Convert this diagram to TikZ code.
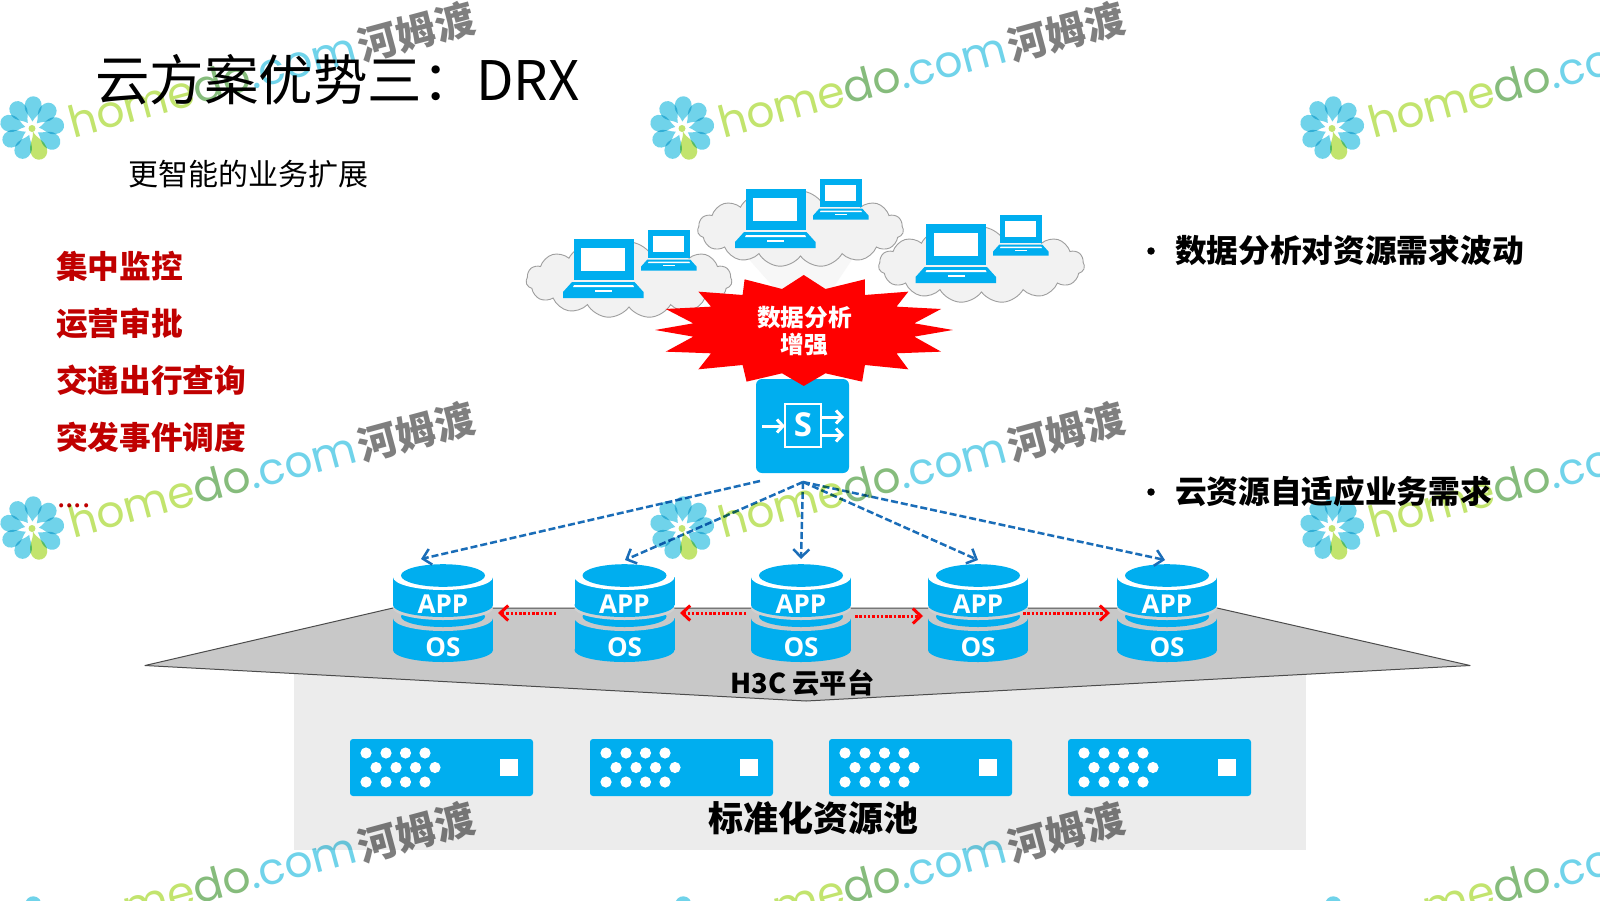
\documentclass[tikz,border=0pt]{standalone}
\usepackage{fontspec}
\setmainfont{Noto Sans CJK SC}
\newfontfamily\latinb{Open Sans}
\newfontfamily\wmfont{Poppins}
\usetikzlibrary{shapes.symbols,arrows.meta,calc}
\definecolor{skyb}{HTML}{00AEEF}
\definecolor{plate}{HTML}{C8C8C8}
\definecolor{panel}{HTML}{ECECEC}
\definecolor{darkred}{HTML}{C00000}
\definecolor{flowblue}{HTML}{1A6DB8}
\definecolor{wlime}{HTML}{C2E46E}
\definecolor{wsage}{HTML}{86BC7C}
\definecolor{wcyan}{HTML}{70D3EA}
\definecolor{wgray}{HTML}{7F7F7F}
\newcommand{\fs}[1]{\fontsize{#1pt}{#1pt}\selectfont}
\tikzset{
  lbl/.style={inner sep=0pt,outer sep=0pt},
  redtxt/.style={lbl,anchor=west,text=darkred,font=\fs{31.7}\bfseries},
  blacktxt/.style={lbl,anchor=west,text=black,font=\fs{31.7}\bfseries},
  bulletdot/.style={circle,fill=black,inner sep=0pt,minimum size=7.5pt},
  cloudy/.style={cloud,cloud puffs=15,cloud puff arc=115,cloud ignores aspect,draw=black!38,fill=black!5,line width=.9pt,inner sep=0pt,minimum width=206pt,minimum height=76pt},
  flow/.style={flowblue,line width=2.5pt,dash pattern=on 7pt off 3pt,-{Straight Barb[length=8pt,width=16pt,line width=2.5pt]}},
  migrate/.style={red,line width=3pt,dash pattern=on 2.5pt off 1.8pt,-{Straight Barb[length=8pt,width=15pt,line width=3pt]}},
  laptop/.pic={
    \fill[skyb] (10.5,0) rectangle (70.5,41);
    \fill[white] (18,9) rectangle (62,32);
    \fill[skyb] (9,43) -- (71.5,43) -- (80.5,53) -- (80.5,59) -- (0,59) -- (0,53) -- cycle;
    \fill[white] (11,46) -- (70,46) -- (71,48) -- (10,48) -- cycle;
    \fill[white] (32,50.5) rectangle (49,52.5);
  },
  stack/.pic={
    \fill[skyb] (-50,41) rectangle (50,73);
    \fill[skyb] (0,73) ellipse [x radius=50,y radius=12];
    \fill[plate] (0,41) ellipse [x radius=50,y radius=13];
    \fill[skyb] (0,39.5) ellipse [x radius=42,y radius=10.5];
    \fill[plate!85!white] (0,31) ellipse [x radius=50,y radius=12];
    \fill[skyb] (-50,0) rectangle (50,28);
    \fill[skyb] (0,28) ellipse [x radius=50,y radius=12];
    \fill[white] (0,0) ellipse [x radius=50,y radius=13];
    \fill[skyb] (0,-1.5) ellipse [x radius=42,y radius=11.3];
    \node[lbl,text=white,font=\latinb\fs{26}\bfseries] (-app) at (0,27) {APP};
    \node[lbl,text=white,font=\latinb\fs{26}\bfseries] (-os) at (0,70) {OS};
  },
  rackunit/.pic={
    \fill[skyb,rounded corners=3pt] (0,0) rectangle (183,57);
    \foreach \dx in {16,36,55.5,75} {
      \fill[white] (\dx,14) circle (5.6pt);
      \fill[white] (\dx,43) circle (5.6pt);
      \fill[white] (\dx+10,28.5) circle (5.6pt);
    }
    \fill[white] (150,20) rectangle (167.5,37);
  },
  petal/.pic={
    \fill (7,0) .. controls (12,-2) and (15,-8.5) .. (22.5,-8.5)
      .. controls (35.5,-8.5) and (35.5,8.5) .. (22.5,8.5)
      .. controls (15,8.5) and (12,2) .. (7,0) -- cycle;
  },
  wmark/.pic={
    \begin{scope}[shift={(32,128.5)}]
      \foreach \a in {1,...,8} { \pic[wcyan,rotate=-73-40*\a] {petal}; }
      \fill[wlime,rotate=-73] (3,0) .. controls (11,-1.5) and (15,-8.5) .. (22.5,-8.5)
        .. controls (35.5,-8.5) and (35.5,8.5) .. (22.5,8.5)
        .. controls (15,8.5) and (11,1.5) .. (3,0) -- cycle;
      \fill[wlime] (0,0) circle (3.5pt);
    \end{scope}
    \node[lbl,anchor=base west,rotate=15,font=\wmfont\fs{44}] (-brand) at (73,138)
      {\textcolor{wlime}{home}\textcolor{wsage}{do}\textcolor{wcyan}{.com}};
    \node[lbl,rotate=15,text=wgray,font=\fs{39.5}\bfseries] (-cn) at (416,32) {河姆渡};
  }
}
\begin{document}
\begin{tikzpicture}[x=1pt,y=-1pt]
\useasboundingbox (0,0) rectangle (1600,900);
\clip (0,0) rectangle (1600,900);
\fill[white] (0,0) rectangle (1600,900);

% title block
\node[lbl,anchor=base west,font=\fs{54.5}] (title) at (95,100) {云方案优势三：DRX};
\node[lbl,anchor=west,font=\fs{30}] (subtitle) at (128,174) {更智能的业务扩展};

% left list
\node[redtxt] (l1) at (56,266.5) {集中监控};
\node[redtxt] (l2) at (56,323.5) {运营审批};
\node[redtxt] (l3) at (56,380.5) {交通出行查询};
\node[redtxt] (l4) at (56,437.5) {突发事件调度};
\node[lbl,anchor=base west,text=darkred,font=\fs{30}] (l5) at (57,507) {....};

% right bullets
\node[bulletdot] (b1) at (1151,251) {};
\node[blacktxt] (r1) at (1175,250.5) {数据分析对资源需求波动};
\node[bulletdot] (b2) at (1151,492) {};
\node[blacktxt] (r2) at (1175,491.5) {云资源自适应业务需求};

% resource pool panel and platform plate
\fill[panel] (294,660) rectangle (1306,850);
\draw[fill=plate,draw=black!70,line width=1pt,line join=round]
  (145,665.5) -- (393,608) -- (1217,608) -- (1470,665.5) -- (806,701) -- cycle;
\node[lbl,font=\fs{27.3}\bfseries] (h3c) at (802.5,683) {H3C 云平台};

% servers
\pic (s1) at (350,739) {rackunit};
\pic (s2) at (590,739) {rackunit};
\pic (s3) at (829,739) {rackunit};
\pic (s4) at (1068,739) {rackunit};
\node[lbl,font=\fs{35}\bfseries] (pool) at (813,818) {标准化资源池};

% clouds and laptops
\fill[black!3] (745,255) -- (855,255) -- (825,300) -- (785,300) -- cycle;
\node[cloudy] (c1) at (629,280) {};
\node[cloudy] (c2) at (800.5,229) {};
\node[cloudy] (c3) at (981.5,265) {};
\pic at (563,239) {laptop};
\pic[scale=.69] at (641,230) {laptop};
\pic at (735,189) {laptop};
\pic[scale=.69] at (813,179) {laptop};
\pic at (915.5,224) {laptop};
\pic[scale=.69] at (993,215) {laptop};

% switch
\node[lbl,fill=skyb,rounded corners=6pt,minimum width=93pt,minimum height=94pt] (switch) at (802.5,426) {};
\draw[white,line width=2.4pt] (785,404) rectangle (821,447);
\node[lbl,text=white,font=\latinb\fs{33}\bfseries] (sw) at (803,425) {S};
\draw[white,line width=3pt,-{Straight Barb[length=6pt,width=13pt,line width=3pt]}] (762,426) -- (785,426);
\draw[white,line width=3pt,-{Straight Barb[length=6pt,width=13pt,line width=3pt]}] (822,417) -- (844,417);
\draw[white,line width=3pt,-{Straight Barb[length=6pt,width=13pt,line width=3pt]}] (822,435) -- (844,435);

% burst
\begin{scope}[shift={(500,160)},x=.3945pt,y=-.3333pt]
\fill[red] (770,345) -- (825,387) -- (925,358) -- (925,405) -- (1035,395) -- (1005,440)
  -- (1118,447) -- (1050,490) -- (1148,510) -- (1050,530) -- (1118,575) -- (1005,580)
  -- (1035,628) -- (925,615) -- (918,665) -- (825,640) -- (770,678) -- (715,640)
  -- (625,665) -- (615,615) -- (503,628) -- (535,580) -- (420,575) -- (490,530)
  -- (393,510) -- (490,490) -- (420,447) -- (535,440) -- (503,395) -- (615,405)
  -- (620,358) -- (715,387) -- cycle;
\end{scope}
\node[lbl,text=white,align=center,font=\fontsize{23.7pt}{27.5pt}\selectfont\bfseries] (burst) at (804.5,331) {数据分析\\增强};

% stacks
\pic (a1) at (443,577) {stack};
\pic (a2) at (624.5,577) {stack};
\pic (a3) at (801,577) {stack};
\pic (a4) at (978,577) {stack};
\pic (a5) at (1167,577) {stack};

% connectors
\coordinate (hub) at (803,482);
\coordinate (hubl) at (760,481);
\coordinate (t1) at (421,559);
\coordinate (t2) at (625,560);
\coordinate (t3) at (801,559);
\coordinate (t4) at (978,560);
\coordinate (t5) at (1165,560);
\draw[flow] (hubl) -- (t1);
\draw[flow] (hub) -- (t2);
\draw[flow] (hub) -- (t3);
\draw[flow] (hub) -- (t4);
\draw[flow] (hub) -- (t5);
\coordinate (m1a) at (556,613); \coordinate (m1b) at (498,613);
\coordinate (m2a) at (746,613); \coordinate (m2b) at (680,613);
\coordinate (m3a) at (855,616); \coordinate (m3b) at (923,616);
\coordinate (m4a) at (1023,613); \coordinate (m4b) at (1110,613);
\draw[migrate] (m1a) -- (m1b);
\draw[migrate] (m2a) -- (m2b);
\draw[migrate] (m3a) -- (m3b);
\draw[migrate] (m4a) -- (m4b);

% watermark tiles
\begin{scope}[blend mode=multiply]
\foreach \tx/\tn in {0/a,650/b,1300/c} {
  \foreach \ty/\tm in {0/p,400/q,800/r} {
    \pic (w\tn\tm) at (\tx,\ty) {wmark};
  }
}
\end{scope}
\end{tikzpicture}
\end{document}
